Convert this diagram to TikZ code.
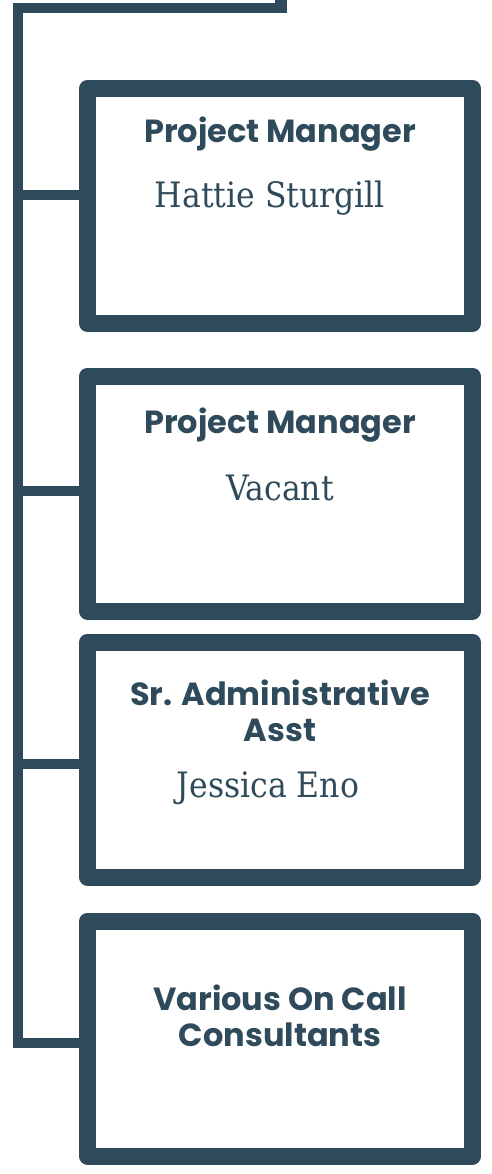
\documentclass[tikz,border=0pt]{standalone}
\usepackage{fontspec}
\setsansfont{Poppins}
\newfontfamily\namefont{DejaVu Serif Condensed}
\usetikzlibrary{positioning}
\definecolor{slate}{HTML}{2F4B5B}

\begin{document}
\begin{tikzpicture}[x=1pt,y=-1pt,
  box/.style={draw=slate, line width=17pt, line join=round, minimum width=385pt, minimum height=235pt, inner sep=0pt},
  link/.style={draw=slate, line width=10pt},
  title/.style={text=slate, font=\sffamily\bfseries\fontsize{32}{36}\selectfont, align=center, anchor=base, inner sep=0pt},
  person/.style={text=slate, font=\namefont\fontsize{35}{40}\selectfont, anchor=base, inner sep=0pt}]

\useasboundingbox (0,0) rectangle (491,1174);

% Boxes
\node[box] (pm1) at (280,206) {};
\node[box] (pm2) at (280,493.5) {};
\node[box] (asst) at (280,759.5) {};
\node[box] (cons) at (280,1038.5) {};

% Texts (multi-line titles sit on the baseline of their last line)
\node[title] (pm1title) at (280,143) {Project Manager};
\node[person] (pm1name) at (270,208) {Hattie Sturgill};
\node[title] (pm2title) at (280,433) {Project Manager};
\node[person] (pm2name) at (280,500) {Vacant};
\node[title] (assttitle) at (280,741) {Sr. Administrative\\Asst};
\node[person] (asstname) at (268,797) {Jessica Eno};
\node[title] (constitle) at (280,1046) {Various On Call\\Consultants};

% Spine and branches
\coordinate (root) at (281,0);
\coordinate (turn) at (18,8.5);
\coordinate (b1) at (18,195);
\coordinate (b2) at (18,491);
\coordinate (b3) at (18,764);
\coordinate (b4) at (18,1043);
\fill[slate] (275,0) rectangle (287,13);
\draw[link] (root |- turn) -- (turn) -- (b4) -- (b4 -| cons.west);
\draw[link] (b1) -- (b1 -| pm1.west);
\draw[link] (b2) -- (b2 -| pm2.west);
\draw[link] (b3) -- (b3 -| asst.west);

\end{tikzpicture}
\end{document}
